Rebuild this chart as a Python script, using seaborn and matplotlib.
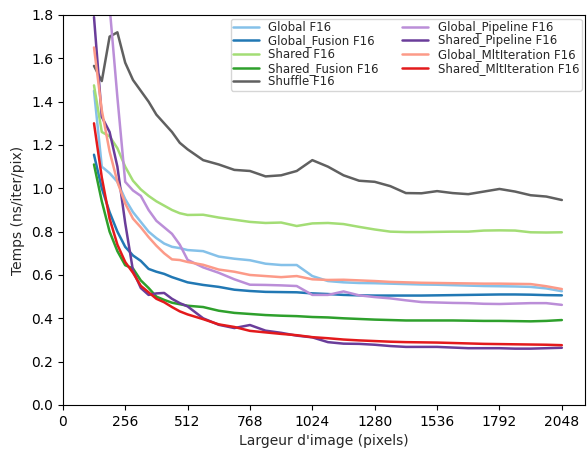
import numpy as np
import pandas as pd
import matplotlib
matplotlib.use("Agg")
import matplotlib.pyplot as plt
import seaborn as sns

# image widths (pixels)
widths = [128, 160, 192, 224, 256, 288, 320, 352, 384, 416, 448, 480, 512,
          576, 640, 704, 768, 832, 896, 960, 1024, 1088, 1152, 1216, 1280,
          1344, 1408, 1472, 1536, 1600, 1664, 1728, 1792, 1856, 1920, 1984, 2048]

global_f16 = [1.45, 1.10, 1.07, 1.03, 0.95, 0.89, 0.845, 0.80, 0.77, 0.745, 0.73, 0.724, 0.715,
              0.71, 0.685, 0.675, 0.668, 0.652, 0.646, 0.646, 0.595, 0.572, 0.566, 0.563, 0.562,
              0.56, 0.558, 0.556, 0.555, 0.553, 0.551, 0.549, 0.548, 0.547, 0.545, 0.538, 0.525]
global_fusion = [1.155, 1.00, 0.89, 0.80, 0.73, 0.69, 0.665, 0.628, 0.615, 0.605, 0.59, 0.578, 0.566,
                 0.554, 0.545, 0.532, 0.526, 0.522, 0.521, 0.52, 0.515, 0.512, 0.508, 0.506, 0.505,
                 0.505, 0.505, 0.505, 0.506, 0.507, 0.508, 0.509, 0.51, 0.51, 0.509, 0.507, 0.506]
shared_f16 = [1.475, 1.26, 1.24, 1.185, 1.10, 1.035, 0.995, 0.965, 0.94, 0.92, 0.90, 0.885, 0.877,
              0.878, 0.865, 0.855, 0.845, 0.84, 0.842, 0.826, 0.838, 0.84, 0.835, 0.822, 0.81,
              0.80, 0.798, 0.798, 0.799, 0.80, 0.80, 0.805, 0.806, 0.805, 0.797, 0.796, 0.797]
shared_fusion = [1.11, 0.94, 0.80, 0.71, 0.645, 0.63, 0.575, 0.54, 0.50, 0.485, 0.472, 0.465, 0.458,
                 0.452, 0.435, 0.425, 0.42, 0.415, 0.412, 0.41, 0.406, 0.404, 0.40, 0.397, 0.394,
                 0.392, 0.39, 0.39, 0.39, 0.39, 0.389, 0.388, 0.388, 0.387, 0.386, 0.388, 0.392]
shuffle_f16 = [1.565, 1.495, 1.70, 1.72, 1.58, 1.50, 1.45, 1.40, 1.34, 1.30, 1.26, 1.21, 1.18,
               1.13, 1.11, 1.085, 1.08, 1.055, 1.06, 1.08, 1.13, 1.10, 1.06, 1.035, 1.03,
               1.01, 0.978, 0.977, 0.987, 0.978, 0.973, 0.985, 0.997, 0.985, 0.968, 0.962, 0.946]
global_pipeline = [2.4, 2.1, 1.84, 1.42, 1.03, 0.99, 0.965, 0.90, 0.85, 0.82, 0.79, 0.74, 0.67,
                   0.635, 0.61, 0.58, 0.555, 0.554, 0.552, 0.549, 0.508, 0.508, 0.524, 0.506, 0.498,
                   0.492, 0.483, 0.475, 0.473, 0.471, 0.47, 0.467, 0.466, 0.468, 0.47, 0.47, 0.462]
shared_pipeline = [1.79, 1.33, 1.26, 1.10, 0.84, 0.62, 0.54, 0.508, 0.515, 0.517, 0.49, 0.47, 0.455,
                   0.40, 0.37, 0.355, 0.369, 0.343, 0.333, 0.32, 0.312, 0.29, 0.283, 0.282, 0.278,
                   0.272, 0.268, 0.268, 0.268, 0.265, 0.262, 0.262, 0.262, 0.26, 0.26, 0.262, 0.264]
global_mlt = [1.65, 1.36, 1.17, 1.03, 0.93, 0.86, 0.82, 0.775, 0.735, 0.70, 0.672, 0.669, 0.66,
              0.647, 0.625, 0.615, 0.60, 0.595, 0.59, 0.595, 0.58, 0.577, 0.578, 0.575, 0.572,
              0.568, 0.566, 0.564, 0.563, 0.562, 0.561, 0.56, 0.56, 0.559, 0.558, 0.548, 0.535]
shared_mlt = [1.30, 1.05, 0.86, 0.74, 0.66, 0.61, 0.55, 0.52, 0.49, 0.474, 0.452, 0.432, 0.418,
              0.396, 0.372, 0.36, 0.342, 0.335, 0.328, 0.322, 0.313, 0.308, 0.302, 0.298, 0.295,
              0.292, 0.29, 0.289, 0.288, 0.286, 0.284, 0.282, 0.281, 0.28, 0.279, 0.278, 0.276]

labels = ["Global F16", "Global_Fusion F16", "Shared F16", "Shared_Fusion F16", "Shuffle F16",
          "Global_Pipeline F16", "Shared_Pipeline F16", "Global_MltIteration F16",
          "Shared_MltIteration F16"]
series = [global_f16, global_fusion, shared_f16, shared_fusion, shuffle_f16,
          global_pipeline, shared_pipeline, global_mlt, shared_mlt]
colors = ["#85c1e9", "#2178b4", "#a3dd75", "#2ea02c", "#606060",
          "#bb8ed8", "#6a3d9a", "#fc9a88", "#e31a1c"]

rows = []
for lab, vals in zip(labels, series):
    for w, v in zip(widths, vals):
        rows.append({"width": w, "time": v, "version": lab})
df = pd.DataFrame(rows)

sns.set_style("ticks")
plt.rcParams["font.family"] = ["DejaVu Sans"]

fig, ax = plt.subplots(figsize=(5.87, 4.54), dpi=100)
fig.subplots_adjust(left=0.107, right=0.997, top=0.967, bottom=0.108)

sns.lineplot(data=df, x="width", y="time", hue="version", hue_order=labels,
             palette=dict(zip(labels, colors)), estimator=None, sort=False,
             linewidth=1.8, ax=ax)

ax.set_xlim(0, 2144)
ax.set_ylim(0, 1.8)
ax.set_xticks(np.arange(0, 2049, 256))
ax.set_yticks(np.arange(0, 1.81, 0.2))
ax.set_xlabel("Largeur d'image (pixels)")
ax.set_ylabel("Temps (ns/iter/pix)")
for s in ax.spines.values():
    s.set_color("black")
ax.tick_params(colors="black")

ax.legend(loc="upper right", ncol=2, fontsize=8.5, labelspacing=0.05,
          borderpad=0.2, borderaxespad=0.3, handlelength=2.2, columnspacing=2.0)

plt.savefig("out.png", dpi=100)
